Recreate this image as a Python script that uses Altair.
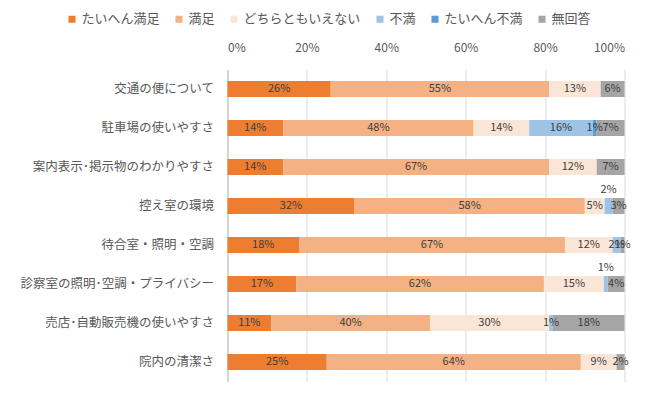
import altair as alt
import pandas as pd

categories = [
    "交通の便について",
    "駐車場の使いやすさ",
    "案内表示･掲示物のわかりやすさ",
    "控え室の環境",
    "待合室・照明・空調",
    "診察室の照明･空調・プライバシー",
    "売店･自動販売機の使いやすさ",
    "院内の清潔さ",
]
series = ["たいへん満足", "満足", "どちらともいえない", "不満", "たいへん不満", "無回答"]
colors = ["#ED7D31", "#F4B183", "#FBE5D6", "#9DC3E6", "#5B9BD5", "#A5A5A5"]

very_satisfied = [26, 14, 14, 32, 18, 17.3, 11, 25]
satisfied = [55, 48, 67, 58, 67, 62.4, 40, 64]
neutral = [13, 14, 12, 5, 12, 15.1, 30, 9]
dissatisfied = [0, 16, 0, 2, 2, 1.0, 1, 0]
very_dissatisfied = [0, 1, 0, 0, 0, 0, 0, 0]
no_answer = [6, 7, 7, 3, 1, 4.2, 18, 2]

# labels that Excel placed above the bar
raised = [("控え室の環境", "不満"), ("診察室の照明･空調・プライバシー", "不満")]

cols = [very_satisfied, satisfied, neutral, dissatisfied, very_dissatisfied, no_answer]
rows = []
for ci, c in enumerate(categories):
    for si, s in enumerate(series):
        rows.append({
            "cat": c,
            "series": s,
            "s_idx": si,
            "value": cols[si][ci],
            "raised": (c, s) in raised,
        })
df = pd.DataFrame(rows)

FONT = "Noto Sans CJK JP"

x_enc = alt.X(
    "value:Q",
    stack="zero",
    scale=alt.Scale(domain=[0, 100], nice=False),
    axis=alt.Axis(
        orient="top",
        values=[0, 20, 40, 60, 80, 100],
        labelExpr="datum.value + '%'",
        title=None,
        grid=True,
        gridColor="#D9D9D9",
        domain=False,
        ticks=False,
        labelPadding=15,
        labelFontSize=12,
        labelColor="#595959",
        labelFont=FONT,
    ),
)
y_enc = alt.Y(
    "cat:N",
    sort=categories,
    scale=alt.Scale(paddingInner=0.59, paddingOuter=0.295),
    axis=alt.Axis(
        title=None,
        ticks=False,
        domain=True,
        domainColor="#BFBFBF",
        labelPadding=14,
        labelFontSize=12.5,
        labelColor="#595959",
        labelFont=FONT,
        labelLimit=300,
    ),
)

base = alt.Chart(df)

bars = base.mark_bar().encode(
    x=x_enc,
    y=y_enc,
    color=alt.Color(
        "series:N",
        scale=alt.Scale(domain=series, range=colors),
        legend=alt.Legend(
            title=None,
            orient="none",
            direction="horizontal",
            columns=6,
            legendX=-162,
            legendY=-57,
            symbolType="square",
            symbolSize=50,
            symbolStrokeWidth=0,
            labelFontSize=13,
            labelFont=FONT,
            labelColor="#595959",
            labelOffset=3,
            columnPadding=12,
        ),
    ),
    order=alt.Order("s_idx:Q", sort="ascending"),
)

lab_base = (
    base.transform_filter("datum.value > 0")
    .transform_stack(
        stack="value",
        groupby=["cat"],
        as_=["x0", "x1"],
        sort=[alt.SortField("s_idx", order="ascending")],
    )
    .transform_calculate(
        mid="(datum.x0 + datum.x1) / 2",
        lab="format(datum.value, '.0f') + '%'",
    )
)

labels_in = lab_base.transform_filter("!datum.raised").mark_text(
    fontSize=11, font=FONT, color="#404040"
).encode(
    x=alt.X("mid:Q"),
    y=alt.Y("cat:N", sort=categories),
    text="lab:N",
)

labels_up = lab_base.transform_filter("datum.raised").mark_text(
    fontSize=11, font=FONT, color="#404040", dy=-16
).encode(
    x=alt.X("mid:Q"),
    y=alt.Y("cat:N", sort=categories),
    text="lab:N",
)

chart = (
    alt.layer(bars, labels_in, labels_up)
    .properties(
        width=397,
        height=312,
        autosize=alt.AutoSizeParams(type="none"),
        padding={"left": 219.5, "top": 61.5, "right": 20, "bottom": 10},
        background="white",
    )
    .configure_view(stroke=None)
)

chart.save("out.html", embed_options={"renderer": "svg", "actions": False})
